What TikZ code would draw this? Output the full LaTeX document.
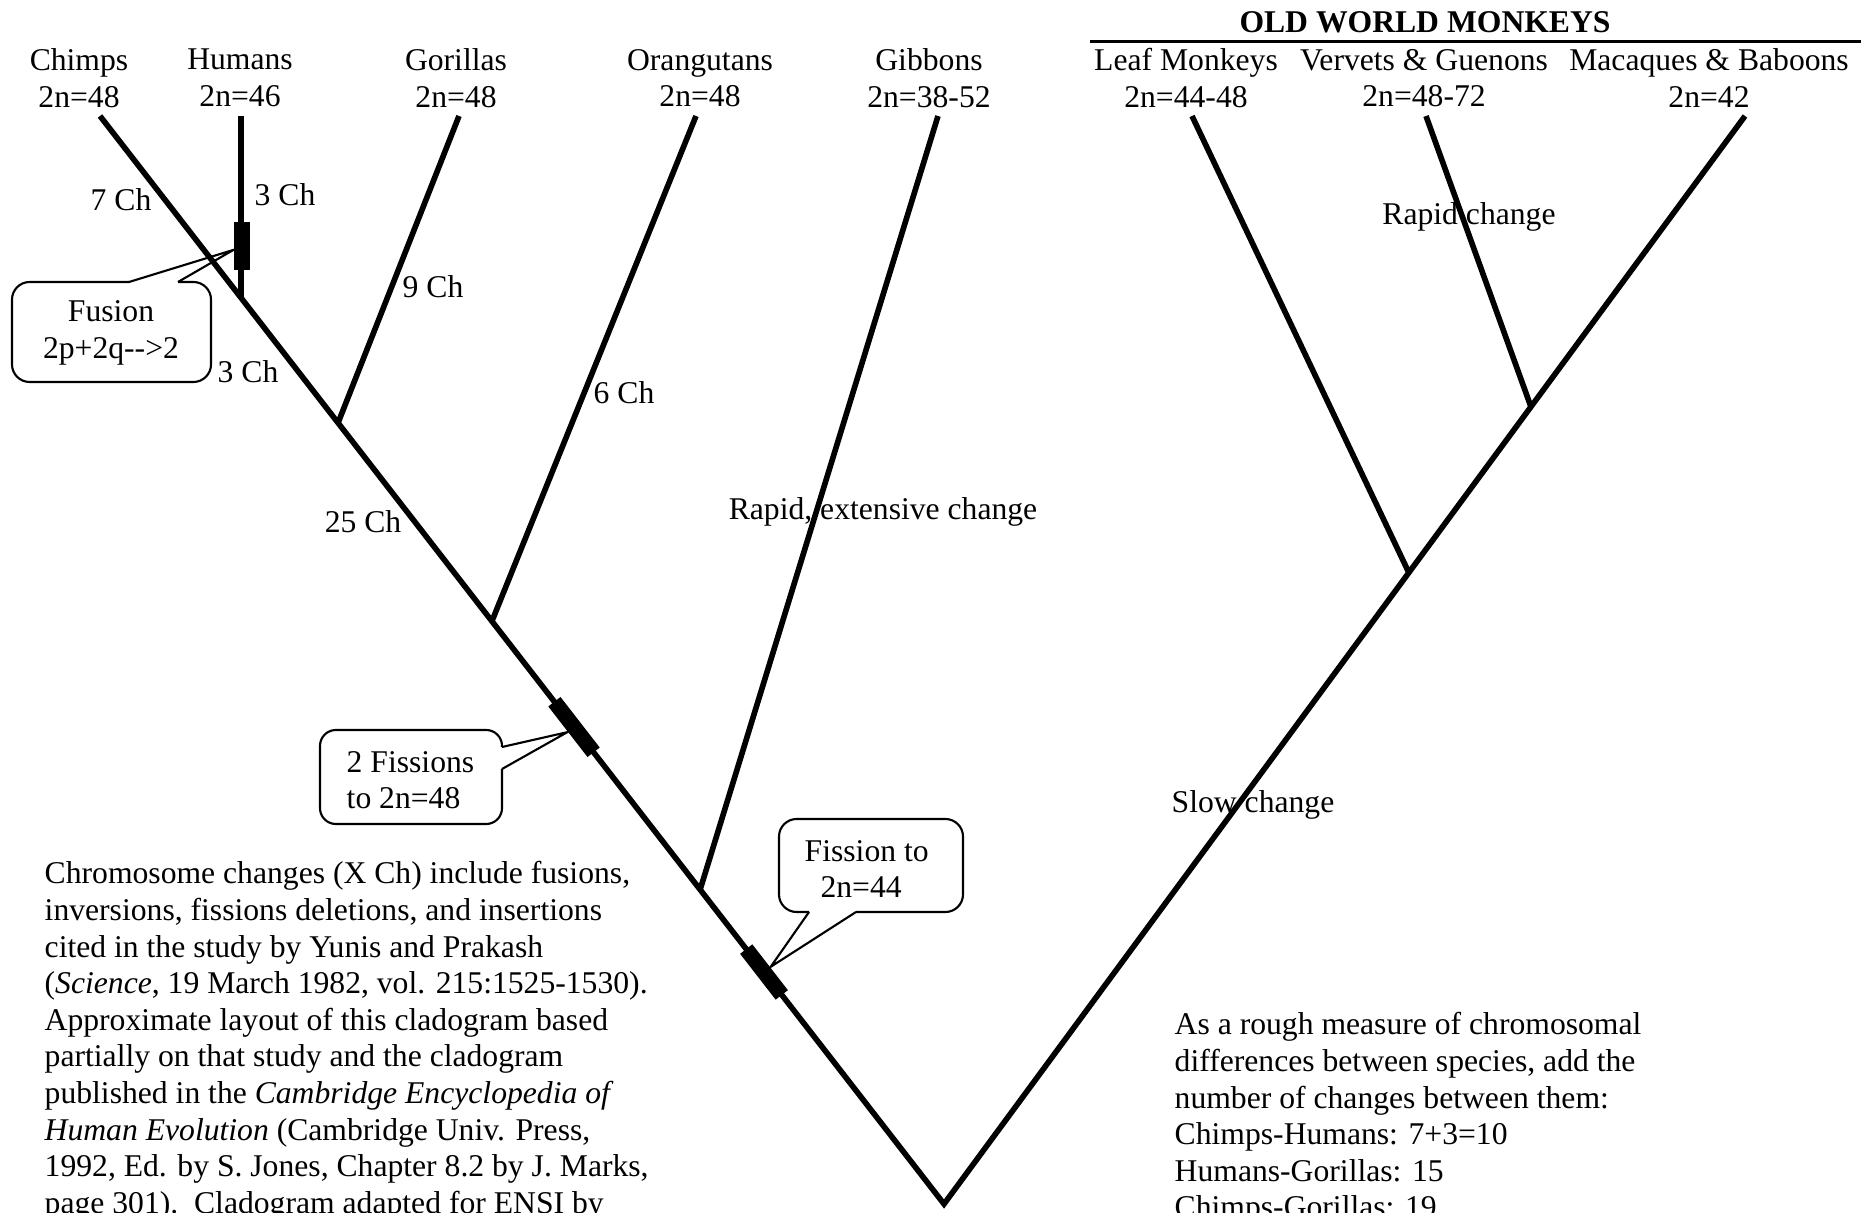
\documentclass[tikz,border=0pt]{standalone}
\usepackage{fontspec}
\setmainfont{Liberation Serif}
\usepackage{tikz}
\tikzstyle{branch}=[line width=1.6pt]
\tikzstyle{bar}=[fill, inner sep=0pt]
\tikzstyle{bubble}=[line width=0.6pt]
\tikzstyle{lbl}=[align=center, inner sep=0pt]
\tikzstyle{note}=[align=left, inner sep=0pt, anchor=north west]

\begin{document}
\begin{tikzpicture}[x=0.01cm, y=-0.01cm, font=\fontsize{9}{10.4}\selectfont]
  \useasboundingbox (0,0) rectangle (1873,1213);
  % species names
  \node[lbl] (chimps) at (79,78) {Chimps\\2n=48};
  \node[lbl] (humans) at (240,78) {Humans\\2n=46};
  \node[lbl] (gorillas) at (456,78) {Gorillas\\2n=48};
  \node[lbl] (orangs) at (700,78) {Orangutans\\2n=48};
  \node[lbl] (gibbons) at (929,78) {Gibbons\\2n=38-52};
  \node[lbl] (leafs) at (1186,78) {Leaf Monkeys\\2n=44-48};
  \node[lbl] (vervets) at (1424,78) {Vervets \& Guenons\\2n=48-72};
  \node[lbl] (macaques) at (1709,78) {Macaques \& Baboons\\2n=42};
  \node[lbl, font=\fontsize{9}{10.4}\selectfont\bfseries] (owm) at (1425,22) {OLD WORLD MONKEYS};
  \coordinate (owmL) at (1090,42);
  \coordinate (owmR) at (1861,42);
  \draw[line width=0.85pt] (owmL) -- (owmR);

  % tree
  \coordinate (root) at (944,1204);
  \coordinate (chimpTip) at (100,116);
  \coordinate (humanTip) at (241,116);
  \coordinate (gorillaTip) at (459,116);
  \coordinate (orangTip) at (696,116);
  \coordinate (gibbonTip) at (938,116);
  \coordinate (leafTip) at (1192,116);
  \coordinate (vervetTip) at (1426,116);
  \coordinate (macaqueTip) at (1745,116);
  \coordinate (humanJ) at (241,298);
  \coordinate (gorillaJ) at (338,423);
  \coordinate (orangJ) at (492,621);
  \coordinate (gibbonJ) at (700,890);
  \coordinate (leafJ) at (1409,573);
  \coordinate (vervetJ) at (1531,407);
  \draw[branch] (chimpTip) -- (root) -- (macaqueTip);
  \draw[branch] (humanJ) -- (humanTip);
  \draw[branch] (gorillaJ) -- (gorillaTip);
  \draw[branch] (orangJ) -- (orangTip);
  \draw[branch] (gibbonJ) -- (gibbonTip);
  \draw[branch] (leafJ) -- (leafTip);
  \draw[branch] (vervetJ) -- (vervetTip);

  % changes on branches
  \node (ch7) at (121,200) {7 Ch};
  \node (ch3a) at (285,195) {3 Ch};
  \node (ch9) at (433,287) {9 Ch};
  \node (ch3b) at (248,372) {3 Ch};
  \node (ch6) at (624,393) {6 Ch};
  \node (ch25) at (363,522) {25 Ch};
  \node (rapidExt) at (883,512) {Rapid, extensive change};
  \node (rapid) at (1469,217) {Rapid change};
  \node (slow) at (1253,805) {Slow change};

  % fusion and fissions
  \node[bar, minimum width=4.4pt, minimum height=13.4pt] (fusionBar) at (242,246) {};
  \node[bar, minimum width=18.2pt, minimum height=4.4pt, rotate=-52.2] (fissBarA) at (574,727) {};
  \node[bar, minimum width=16.5pt, minimum height=4.4pt, rotate=-52.2] (fissBarB) at (764,972) {};
  % bubbles: box outline, then pointer
  \draw[bubble, rounded corners=5pt] (178,282) -- (211,282) -- (211,382) -- (12,382)
    -- (12,282) -- (129,282);
  \draw[bubble] (129,282) -- ([yshift=-1.1pt]fusionBar.west) -- (178,282);
  \draw[bubble, rounded corners=4.5pt] (502,769) -- (502,824) -- (320,824) -- (320,730)
    -- (502,730) -- (502,747);
  \draw[bubble] (502,747) -- (fissBarA.south) -- (502,769);
  \draw[bubble, rounded corners=5pt] (856,912) -- (963,912) -- (963,819) -- (779,819)
    -- (779,912) -- (809,912);
  \draw[bubble] (809,912) -- (fissBarB.north) -- (856,912);
  \node[lbl] (fusionTxt) at (111,333) {Fusion\\2p+2q-{}->2};
  \node[note, anchor=west] (fissTxtA) at (346,780) {2 Fissions\\to 2n=48};
  \node[note, anchor=west] (fissTxtB) at (804,869) {Fission to\\\enspace 2n=44};

  % notes
  \node[note] (noteL) at (44,861) {Chromosome changes (X Ch) include fusions,\\
    inversions, fissions deletions, and insertions\\
    cited in the study by Yunis and Prakash\\
    (\textit{Science}, 19 March 1982, vol. 215:1525-1530).\\
    Approximate layout of this cladogram based\\
    partially on that study and the cladogram\\
    published in the \textit{Cambridge Encyclopedia of}\\
    \textit{Human Evolution} (Cambridge Univ. Press,\\
    1992, Ed. by S. Jones, Chapter 8.2 by J. Marks,\\
    page 301).\ \ Cladogram adapted for ENSI by};
  \node[note] (noteR) at (1174,1012) {As a rough measure of chromosomal\\
    differences between species, add the\\
    number of changes between them:\\
    Chimps-Humans: 7+3=10\\
    Humans-Gorillas: 15\\
    Chimps-Gorillas: 19};
\end{tikzpicture}
\end{document}
